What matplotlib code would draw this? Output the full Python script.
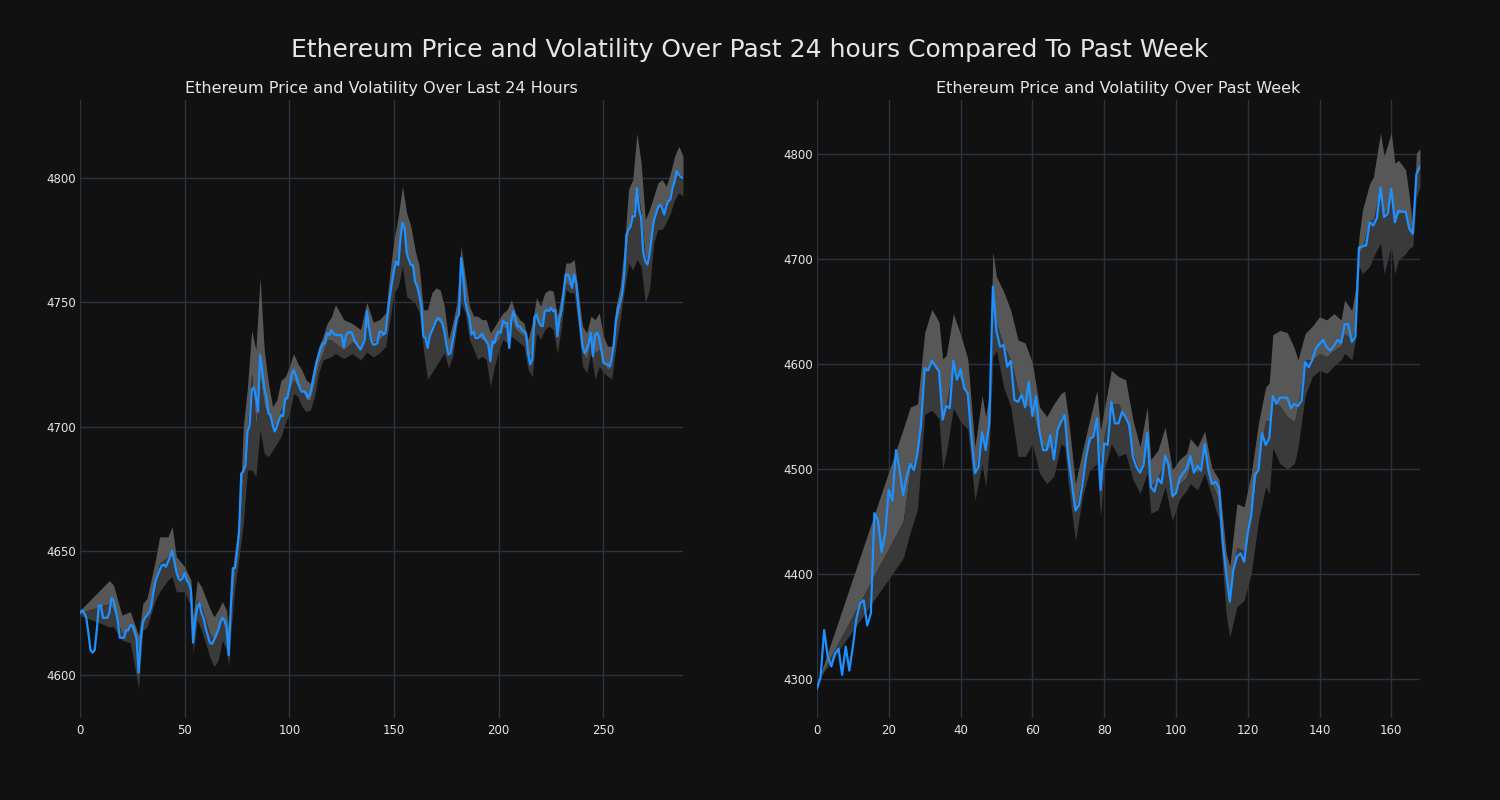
import numpy as np
import matplotlib
matplotlib.use("Agg")
import matplotlib.pyplot as plt

# --- data ---
# last 24 hours (5 minute steps)
day_price = [
    4625, 4626, 4625, 4623, 4617, 4610, 4609, 4610, 4618, 4628,
    4628, 4623, 4623, 4623, 4625, 4631, 4630, 4626, 4622, 4615,
    4615, 4615, 4618, 4618, 4620, 4620, 4618, 4615, 4601, 4614,
    4621, 4623, 4624, 4625, 4627.5, 4633, 4637.5, 4640, 4642, 4644,
    4644.5, 4643.5, 4645.5, 4647.5, 4650, 4646, 4641.5, 4639, 4638, 4639,
    4641, 4638, 4637, 4634, 4613, 4622, 4627, 4629, 4625, 4623,
    4619, 4616, 4613, 4612.5, 4614, 4616, 4618, 4621, 4623, 4622,
    4619, 4608, 4627, 4643, 4643, 4649.6, 4658, 4681, 4682, 4684.5,
    4698, 4700.5, 4714.7, 4715.8, 4712, 4706, 4728.8, 4722.7, 4715.4, 4712,
    4705.3, 4704.6, 4700.6, 4698, 4700, 4702.6, 4704.6, 4704.2, 4711.3, 4711.3,
    4715.4, 4720.7, 4722.7, 4720.7, 4718, 4715.4, 4714, 4714.2, 4713.3, 4711.6,
    4713.3, 4717.4, 4722, 4726, 4728.8, 4731.5, 4733.5, 4733.5, 4737.5, 4736.8,
    4738.8, 4737.5, 4736.8, 4736.8, 4736.8, 4736.8, 4732, 4736.8, 4737.8, 4738,
    4737.5, 4734.8, 4733.5, 4732, 4731, 4732.8, 4734.8, 4746.5, 4740, 4735,
    4733, 4733, 4733.5, 4738, 4738.3, 4737, 4737.7, 4745.7, 4752.4, 4757.8,
    4763, 4766.5, 4765, 4775.2, 4782, 4780, 4770, 4767.2, 4765, 4765,
    4758.5, 4756.4, 4753, 4748.4, 4736.3, 4735.6, 4731.6, 4736.3, 4738.3, 4740.3,
    4742.4, 4743.7, 4743, 4741.7, 4738.3, 4733, 4729, 4729.6, 4734.3, 4739,
    4743.7, 4745, 4767.8, 4760.5, 4750.4, 4746.4, 4743.7, 4737, 4738.3, 4735.6,
    4735.6, 4736.3, 4737.4, 4735.6, 4734.3, 4733, 4726.3, 4734.3, 4733.6, 4737,
    4738.3, 4737.7, 4742.4, 4741.7, 4741.7, 4731.6, 4743, 4746.4, 4743, 4740.3,
    4740.3, 4739, 4738.3, 4737.7, 4729.6, 4725, 4727, 4744, 4745, 4742.4,
    4740.6, 4740.4, 4746.4, 4747, 4746.4, 4747.8, 4746.4, 4746.8, 4736.3, 4743.7,
    4747, 4753.8, 4761.2, 4761.2, 4759.2, 4755.8, 4761.2, 4757.8, 4748.4, 4740.4,
    4732.3, 4729.6, 4731, 4733.7, 4737.7, 4728.3, 4737, 4737.7, 4735.7, 4731,
    4725.6, 4725.2, 4725, 4724.3, 4727.6, 4733, 4743, 4747.8, 4749.8, 4753.8,
    4761.8, 4777.3, 4779.3, 4780.6, 4784.6, 4784.6, 4796, 4787.3, 4784, 4770,
    4766.5, 4765.2, 4769.2, 4776, 4782.6, 4785.3, 4788, 4789.3, 4788, 4785.3,
    4788.7, 4790.7, 4791.3, 4796, 4798.7, 4802.8, 4801.4, 4800.5, 4800,
]

# volatility band for the 24h panel: x, upper, middle, lower
day_band_x = [
    0, 14, 16, 20, 24, 28, 30, 32, 36, 38, 42, 44, 46, 50, 53, 54, 56, 58,
    62, 64, 66, 68, 70, 71, 72, 74, 76, 78, 80, 82, 84, 86, 88, 90, 92, 94,
    96, 98, 100, 102, 104, 106, 108, 110, 112, 114, 116, 118, 120, 122, 126,
    130, 134, 137, 140, 143, 146, 148, 150, 152, 154, 156, 158, 160, 162, 164,
    166, 168, 170, 172, 174, 176, 178, 180, 182, 184, 186, 188, 190, 192, 194,
    196, 198, 200, 202, 204, 206, 208, 210, 212, 214, 216, 218, 220, 222, 224,
    226, 228, 230, 232, 234, 236, 238, 240, 242, 244, 246, 248, 250, 252, 254,
    256, 258, 260, 262, 264, 266, 268, 270, 272, 274, 276, 278, 280, 282, 284,
    286, 288,
]
day_band_up = [
    4626, 4638, 4636.2, 4624.1, 4625.5, 4616, 4628.8, 4630.8, 4646.2, 4655.6,
    4655.6, 4659.7, 4647.6, 4643.6, 4638.2, 4623.4, 4638.2, 4635.5, 4626.8, 4623.4,
    4626.1, 4629.5, 4626.1, 4618.1, 4635.5, 4650.3, 4661, 4699.9, 4716, 4738.8,
    4730.8, 4760, 4730.8, 4717.4, 4708, 4710.7, 4718.7, 4720, 4724.1, 4729.4,
    4725.4, 4722.7, 4718.7, 4717.4, 4725.4, 4732.1, 4736.1, 4741.5, 4744, 4749,
    4743, 4741.5, 4739, 4750, 4742, 4743, 4745.7, 4761.8, 4775.2, 4784.6,
    4796.7, 4786, 4780.6, 4771.2, 4764.5, 4747, 4747, 4753.8, 4755.8, 4755,
    4748.4, 4735, 4741.7, 4749.7, 4772.5, 4760.5, 4748.4, 4744.4, 4744.4, 4743,
    4743, 4737.7, 4740.3, 4743, 4745.7, 4747, 4751, 4745.7, 4743, 4741.7,
    4735, 4741.7, 4751.8, 4748.4, 4753.8, 4755, 4754.5, 4744.4, 4753.8, 4765.8,
    4765.8, 4767.2, 4753.8, 4740.4, 4737.7, 4744.4, 4743, 4745.7, 4736.3, 4732.3,
    4732.3, 4748.4, 4756.4, 4772.5, 4795.4, 4799.4, 4818, 4806, 4783.3, 4787.3,
    4792.7, 4798, 4799.4, 4796.7, 4802, 4808.8, 4812.8, 4808.8,
]
day_band_mid = [
    4625, 4628.8, 4626.1, 4616.7, 4619.4, 4610, 4622, 4623.4, 4635.5, 4645,
    4647.6, 4649, 4639.5, 4639.5, 4633.5, 4616.7, 4630.1, 4627.5, 4616.7, 4614,
    4618.1, 4623.4, 4619.4, 4611.4, 4624.8, 4642.3, 4655.7, 4682.5, 4700, 4721.4,
    4700, 4720, 4708, 4704, 4700, 4701.3, 4706.6, 4709.3, 4714.7, 4718.7,
    4716, 4714.7, 4710.7, 4710.7, 4717.4, 4725.4, 4729.4, 4734.8, 4734.8, 4733.5,
    4730.8, 4734.1, 4730.8, 4740, 4734, 4735, 4737.7, 4753.8, 4764.5, 4769.9,
    4780.6, 4769.9, 4765.8, 4757.8, 4752.4, 4736.3, 4735, 4740.3, 4743, 4741.7,
    4739, 4729.6, 4733.6, 4743, 4761.8, 4752.4, 4740.3, 4737.7, 4736.3, 4735,
    4735, 4729.6, 4733.6, 4735, 4740.3, 4739, 4743, 4739, 4737.7, 4736.3,
    4728.3, 4729.6, 4744.4, 4740.4, 4745.7, 4747.1, 4747.1, 4737.7, 4744.4, 4757.8,
    4756.5, 4757.8, 4744.4, 4729.6, 4727, 4735, 4729.6, 4731, 4725.6, 4722.9,
    4724.3, 4740.4, 4747.1, 4764.5, 4777.9, 4784.6, 4796.7, 4786, 4767.2, 4769.9,
    4783.3, 4788.7, 4788, 4790, 4791.3, 4799.4, 4802, 4800.7,
]
day_band_lo = [
    4624, 4619.4, 4619.4, 4614, 4613, 4594.6, 4618, 4619.4, 4630.1, 4633.5,
    4638.2, 4639.5, 4633.5, 4633.5, 4627.5, 4608.7, 4622.1, 4618.1, 4607.3, 4603.3,
    4606, 4614, 4610, 4603.3, 4616.7, 4635.6, 4647.6, 4661, 4682.5, 4682.5,
    4679.8, 4698.6, 4689.2, 4687.9, 4690.5, 4693.2, 4695.9, 4701.3, 4705.3, 4713.3,
    4712, 4708, 4706, 4706.6, 4712, 4721.4, 4726.8, 4727.4, 4728.1, 4729.4,
    4727.4, 4729.4, 4726.8, 4730, 4728, 4729.6, 4732.3, 4743, 4753.8, 4756.4,
    4764.5, 4752.4, 4751, 4749.7, 4745.7, 4731, 4719, 4721.6, 4724.2, 4727,
    4729.6, 4723.6, 4728.3, 4740.3, 4749.7, 4745.7, 4735, 4731, 4727, 4728.3,
    4727, 4716.2, 4724.2, 4731, 4735, 4733.6, 4736.3, 4735, 4733.6, 4732.3,
    4723, 4720, 4737.7, 4735, 4739, 4740.4, 4739, 4729.6, 4740.4, 4755,
    4753.8, 4753.8, 4740.4, 4724.3, 4721.6, 4729.6, 4719, 4724.3, 4721.6, 4720.3,
    4719, 4732.3, 4743, 4755, 4765.8, 4763, 4767.2, 4764.5, 4749.8, 4755,
    4773.9, 4779.3, 4779.3, 4782, 4786, 4791.3, 4794, 4792.7,
]

# past week (hourly)
week_price = [
    4291, 4302, 4346.7, 4321, 4312, 4324, 4329, 4304, 4331, 4308,
    4331, 4358, 4372, 4375, 4351, 4362.5, 4458, 4451, 4421, 4439,
    4480, 4470, 4518, 4499, 4475, 4493, 4505, 4499, 4515, 4543,
    4596, 4594, 4603, 4598, 4593, 4547, 4560, 4558, 4603, 4585,
    4595, 4577, 4572, 4531, 4496, 4502, 4535, 4518, 4543.5, 4673.6,
    4631, 4616.5, 4618, 4597.5, 4603, 4565.7, 4564, 4570.5, 4558.7, 4583,
    4550.5, 4569, 4535.6, 4518, 4518, 4532.4, 4509, 4537, 4545, 4551.4,
    4511.7, 4486.4, 4460.3, 4465.7, 4486.4, 4511.7, 4529, 4530.8, 4548.3, 4480,
    4524.4, 4523, 4564, 4543.5, 4543.5, 4554.6, 4549, 4542, 4511.7, 4502,
    4496.5, 4504, 4534.6, 4483, 4478.4, 4491, 4486.4, 4512.4, 4503.8, 4474.3,
    4476.8, 4491, 4496, 4500.6, 4512.4, 4496.5, 4503, 4498.4, 4523.8, 4499.7,
    4485.7, 4488, 4482.5, 4432.4, 4400.6, 4373.7, 4403.8, 4416.5, 4419.7, 4411.7,
    4438.7, 4456.2, 4494.3, 4499, 4534, 4522.9, 4529.2, 4569.5, 4562, 4568,
    4568, 4568, 4558, 4562, 4560, 4565, 4602, 4597, 4604, 4615,
    4619, 4623, 4616, 4613, 4617, 4623, 4620, 4638, 4638, 4621,
    4626, 4711, 4712, 4713, 4735, 4732, 4739, 4768, 4740, 4743,
    4767, 4735, 4746, 4745, 4745, 4729, 4724, 4781, 4788,
]

week_band_x = [
    1, 24, 26, 28, 30, 32, 34, 35, 36, 38, 40, 42, 44, 46, 47, 48, 49, 50,
    52, 54, 56, 58, 60, 62, 64, 66, 68, 69, 70, 72, 74, 76, 78, 79, 80, 82,
    84, 86, 88, 90, 92, 93, 95, 97, 99, 101, 103, 104, 106, 108, 110, 112,
    114, 115, 117, 119, 121, 123, 125, 126, 127, 129, 131, 133, 134, 136, 138,
    140, 142, 144, 146, 147, 149, 150, 151, 152, 154, 155, 157, 158, 160, 161,
    162, 164, 165, 166, 167, 168,
]
week_band_up = [
    4305, 4538, 4559, 4562, 4630, 4652, 4640, 4605, 4608, 4648, 4628, 4605,
    4521, 4570, 4550, 4572, 4707, 4683, 4669, 4651, 4623, 4620, 4601, 4559,
    4550, 4562, 4572, 4574, 4550, 4486, 4518, 4547, 4575, 4537, 4556, 4594,
    4588, 4585, 4547, 4521, 4559, 4509, 4518, 4540, 4499, 4509, 4515, 4529,
    4521, 4536, 4501, 4490, 4420, 4407, 4467, 4464, 4496, 4544, 4578, 4582,
    4628, 4632, 4630, 4615, 4604, 4629, 4636, 4645, 4642, 4648, 4642, 4661,
    4651, 4671, 4721, 4747, 4772, 4778, 4820, 4798, 4820, 4791, 4794, 4785,
    4760, 4730, 4801, 4805,
]
week_band_mid = [
    4303, 4450, 4500, 4515, 4590, 4600, 4590, 4550, 4562, 4597, 4585, 4565,
    4495, 4535, 4520, 4545, 4664, 4639, 4617, 4604, 4575, 4562, 4556, 4528,
    4518, 4524, 4550, 4550, 4512, 4458, 4496, 4524, 4543, 4505, 4531, 4562,
    4562, 4547, 4515, 4496, 4528, 4483, 4492, 4508, 4470, 4486, 4492, 4505,
    4496, 4515, 4486, 4470, 4394, 4378, 4425, 4422, 4458, 4508, 4546, 4546,
    4565, 4560, 4550, 4545, 4560, 4604, 4604, 4610, 4607, 4613, 4617, 4629,
    4623, 4635, 4705, 4711, 4737, 4737, 4769, 4740, 4763, 4737, 4743, 4745,
    4730, 4720, 4780, 4786,
]
week_band_lo = [
    4302, 4415, 4440, 4462, 4552, 4556, 4548, 4500, 4515, 4558, 4545, 4538,
    4470, 4505, 4483, 4521, 4607, 4613, 4578, 4559, 4512, 4512, 4524, 4496,
    4486, 4493, 4524, 4521, 4486, 4432, 4474, 4499, 4505, 4455, 4499, 4524,
    4512, 4515, 4490, 4477, 4496, 4458, 4461, 4483, 4451, 4471, 4480, 4486,
    4480, 4496, 4474, 4451, 4362, 4340, 4369, 4375, 4401, 4451, 4483, 4476,
    4520, 4505, 4500, 4505, 4520, 4570, 4588, 4594, 4591, 4598, 4604, 4610,
    4604, 4623, 4693, 4686, 4693, 4702, 4715, 4686, 4712, 4686, 4699, 4705,
    4710, 4712, 4759, 4769,
]

bg = "#111111"
grid_col = "#2a3441"
light = "#575757"
dark = "#3a3a3a"
line_col = "#1e90ff"
text_col = "#e6e6e6"

fig = plt.figure(figsize=(15, 8), dpi=100, facecolor=bg)
ax1 = fig.add_axes([80 / 1500, 82 / 800, 603 / 1500, 618 / 800])
ax2 = fig.add_axes([817 / 1500, 82 / 800, 603 / 1500, 618 / 800])

panels = [
    (ax1, day_price, day_band_x, day_band_up, day_band_mid, day_band_lo,
     "Ethereum Price and Volatility Over Last 24 Hours", (4582.7, 4831.4),
     [4600, 4650, 4700, 4750, 4800], [0, 50, 100, 150, 200, 250]),
    (ax2, week_price, week_band_x, week_band_up, week_band_mid, week_band_lo,
     "Ethereum Price and Volatility Over Past Week", (4262.9, 4851.4),
     [4300, 4400, 4500, 4600, 4700, 4800], [0, 20, 40, 60, 80, 100, 120, 140, 160]),
]

for ax, price, bx, bup, bmid, blo, title, ylim, yt, xt in panels:
    ax.set_facecolor(bg)
    x = np.arange(len(price))
    ax.fill_between(bx, bmid, bup, color=light, lw=0, zorder=2)
    ax.fill_between(bx, blo, bmid, color=dark, lw=0, zorder=2)
    ax.plot(x, price, color=line_col, lw=1.6, zorder=3)
    ax.set_xlim(0, len(price) - 1)
    ax.set_ylim(*ylim)
    ax.set_xticks(xt)
    ax.set_yticks(yt)
    ax.grid(True, color=grid_col, lw=1, zorder=0)
    ax.set_axisbelow(True)
    for s in ax.spines.values():
        s.set_visible(False)
    ax.tick_params(length=0, labelsize=8.5, labelcolor=text_col, pad=4)
    ax.tick_params(axis="y", pad=3)
    ax.set_title(title, color=text_col, fontsize=11.5, pad=5)

fig.suptitle("Ethereum Price and Volatility Over Past 24 hours Compared To Past Week",
             color=text_col, fontsize=18, y=1 - 50 / 800, va="center")

fig.savefig("out.png", dpi=100, facecolor=bg)
